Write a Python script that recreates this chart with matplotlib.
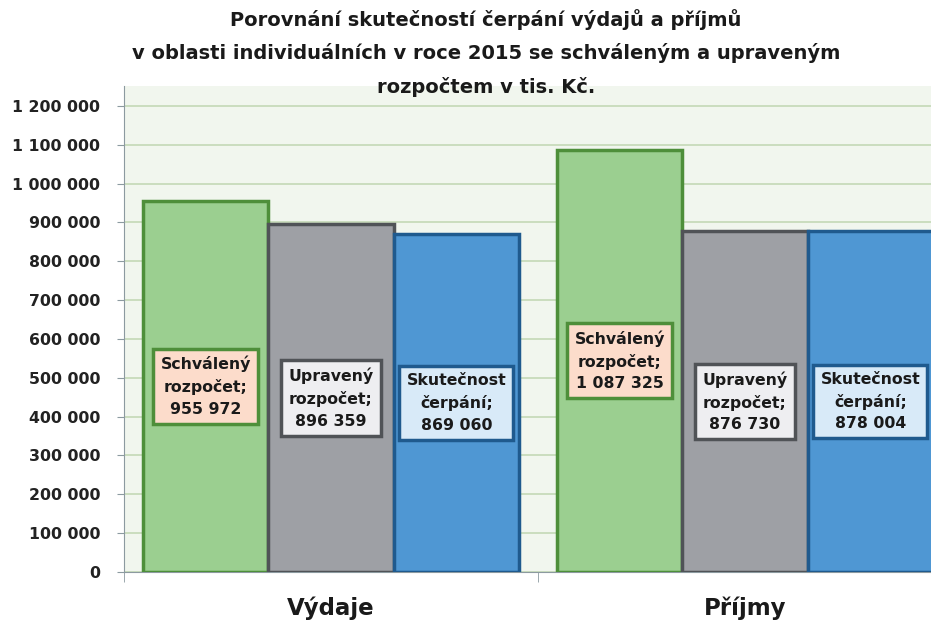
import matplotlib.pyplot as plt
import numpy as np

categories = ['Výdaje', 'Příjmy']
series_names = ['Schválený\nrozpočet', 'Upravený\nrozpočet', 'Skutečnost\nčerpání']
schvaleny = [955972, 1087325]
upraveny = [896359, 876730]
skutecnost = [869060, 878004]
yticks = list(range(0, 1200001, 100000))

plt.rcParams['font.family'] = ['DejaVu Sans']

fills = ['#9bcf90', '#9ea0a5', '#4f97d3']
edges = ['#4e8f3a', '#505357', '#1f5a8e']
label_fills = ['#fcdccb', '#eeeef1', '#d8eaf8']


def fmt(v):
    return f'{int(v):,}'.replace(',', ' ')


fig = plt.figure(figsize=(9.31, 6.22), dpi=100)
ax = fig.add_axes([124 / 931, 50 / 622, 1 - 124 / 931, (572 - 86) / 622])
ax.set_facecolor('#f1f6ee')

x = np.arange(len(categories))
w = 0.3027
values = [schvaleny, upraveny, skutecnost]
for i, vals in enumerate(values):
    pos = x + (i - 1) * w
    ax.bar(pos, vals, width=w, color=fills[i], edgecolor=edges[i],
           linewidth=2.5, zorder=3)
    for xp, v in zip(pos, vals):
        ax.text(xp, v / 2, series_names[i] + ';\n' + fmt(v), ha='center',
                va='center', fontsize=11.3, fontweight='bold', color='#1a1a1a',
                linespacing=1.55, zorder=5,
                bbox=dict(boxstyle='square,pad=0.45', fc=label_fills[i],
                          ec=edges[i], lw=2.5))

ax.set_xlim(-0.5, (931 - 331) / 414)
ax.set_ylim(0, 1251000)
ax.set_yticks(yticks)
ax.set_yticklabels([fmt(v) for v in yticks], fontsize=11.3, fontweight='bold',
                   color='#222222')
ax.yaxis.grid(True, color='#c8dbbb', linewidth=1.3, zorder=0)
ax.tick_params(axis='y', length=5, color='#8c9aa0', pad=12)

ax.set_xticks(x)
ax.set_xticklabels(categories, fontsize=16.5, fontweight='bold', color='#1a1a1a')
ax.tick_params(axis='x', which='major', length=0, pad=18)
ax.set_xticks([-0.5, 0.5], minor=True)
ax.tick_params(axis='x', which='minor', length=7, color='#8c9aa0')

for s in ['top', 'right']:
    ax.spines[s].set_visible(False)
ax.spines['left'].set_color('#8c9aa0')
ax.spines['bottom'].set_color('#8c9aa0')

fig.text(486 / 931, 1 - 53 / 622,
         'Porovnání skutečností čerpání výdajů a příjmů\n'
         'v oblasti individuálních v roce 2015 se schváleným a upraveným\n'
         'rozpočtem v tis. Kč.',
         ha='center', va='center', fontsize=14, fontweight='bold',
         color='#1a1a1a', linespacing=1.87)

fig.savefig('out.png', dpi=100)
